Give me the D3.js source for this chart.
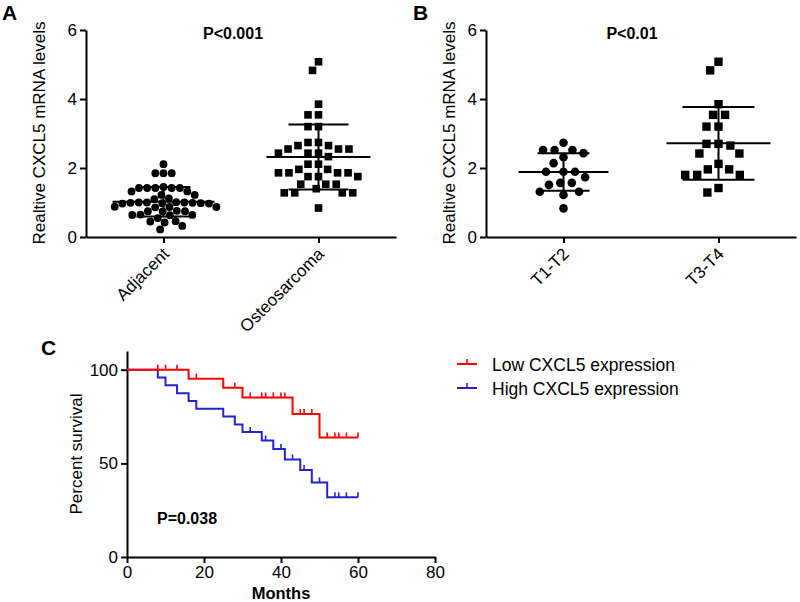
<!DOCTYPE html>
<html>
<head>
<meta charset="utf-8">
<script src="https://cdn.jsdelivr.net/npm/d3@7/dist/d3.min.js"></script>
<style>
  body { margin: 0; background: #fff; }
  text { font-family: "Liberation Sans", Arial, sans-serif; fill: #000; }
</style>
</head>
<body>
<svg id="fig" width="800" height="602"></svg>
<script>
// ---- data ----
const groupsA = ["Adjacent", "Osteosarcoma"];
const adjacent = [2.11, 1.85, 1.85, 1.85, 1.45, 1.42, 1.42, 1.42, 1.42, 1.42, 1.32, 1.32, 1.22, 1.22,
  1.12, 1.10, 1.01, 1.00, 1.00, 1.00, 0.99, 0.99, 0.98, 0.98, 0.97, 0.97, 0.88, 0.87, 0.87, 0.86,
  0.76, 0.75, 0.75, 0.74, 0.65, 0.64, 0.64, 0.63, 0.55, 0.46, 0.45, 0.42, 0.32, 0.22];
const osteosarcoma = [5.08, 4.83, 3.85, 3.54, 3.54, 3.20, 3.20, 2.74, 2.74, 2.65, 2.65, 2.55, 2.55, 2.55,
  2.43, 2.43, 2.43, 2.33, 2.11, 2.11, 1.96, 1.96, 1.86, 1.86, 1.86, 1.86, 1.75, 1.75, 1.75,
  1.53, 1.53, 1.53, 1.40, 1.28, 1.28, 1.28, 1.28, 0.84];

const groupsB = ["T1-T2", "T3-T4"];
const t1t2 = [2.73, 2.52, 2.52, 2.52, 2.43, 2.31, 2.14, 1.89, 1.89, 1.89, 1.73, 1.57, 1.57, 1.51,
  1.31, 1.31, 1.22, 0.83];
const t3t4 = [5.08, 4.83, 3.85, 3.54, 3.54, 3.20, 3.20, 2.70, 2.70, 2.65, 2.42, 2.42, 2.12, 1.96,
  1.96, 1.80, 1.80, 1.80, 1.42, 1.29];

const scatterTicks = [0, 2, 4, 6];

// Kaplan-Meier steps (months, percent survival)
const lowEventMonths = [16, 25, 30, 43, 50];
const lowSurvival = [95.2, 90.4, 85.2, 76.3, 63.8];
const lowCensorMonths = [8, 10, 13, 18, 28, 32, 35, 36, 38, 40, 41, 45, 46, 48, 52, 54, 55, 57, 60];
const highEventMonths = [8, 10, 13, 16, 18, 25, 28, 30, 35, 38, 41, 45, 48, 52];
const highSurvival = [95.8, 91.7, 87.5, 83.3, 79.2, 75.0, 70.8, 66.7, 62.2, 57.7, 52.1, 46.5, 39.8, 31.9];
const highCensorMonths = [32, 36, 40, 43, 46, 50, 54, 55, 57, 60];
const followUpEnd = 60;
const monthTicks = [0, 20, 40, 60, 80];
const survivalTicks = [0, 50, 100];

const svg = d3.select("#fig");

function styleAxis(g) {
  g.selectAll("path, line").attr("stroke", "#000").attr("stroke-width", 2);
  g.selectAll("text").style("font-size", "17px").attr("fill", "#000");
}

// simple swarm layout, like the prism dot plots
function swarm(values, y, gap) {
  const placed = [];
  values.map(v => ({ v: v, py: y(v) }))
    .sort((a, b) => a.py - b.py)
    .forEach(p => {
      const cands = [0];
      placed.forEach(q => {
        const dy = Math.abs(q.py - p.py);
        if (dy < gap) {
          const dx = Math.sqrt(gap * gap - dy * dy);
          cands.push(q.dx + dx, q.dx - dx);
        }
      });
      cands.sort((a, b) => Math.abs(a) - Math.abs(b) || a - b);
      p.dx = cands.find(c => placed.every(q => (q.dx - c) ** 2 + (q.py - p.py) ** 2 >= gap * gap - 0.01));
      placed.push(p);
    });
  return placed;
}

function scatterPanel(opt) {
  const g = svg.append("g");
  const x = d3.scalePoint().domain(opt.groups).range(opt.xRange).padding(0.5);
  const y = d3.scaleLinear().domain([0, 6]).range([237, 30]);

  g.append("g")
    .attr("transform", `translate(${opt.xRange[0]},0)`)
    .call(d3.axisLeft(y).tickValues(scatterTicks).tickFormat(d3.format("d"))
      .tickSize(6).tickSizeOuter(0).tickPadding(3))
    .call(styleAxis);

  const xa = g.append("g")
    .attr("transform", "translate(0,237)")
    .call(d3.axisBottom(x).tickSize(6).tickSizeOuter(0))
    .call(styleAxis);
  xa.selectAll("text")
    .attr("x", 0).attr("y", 0).attr("dy", 0)
    .attr("text-anchor", "end")
    .attr("transform", "translate(6,18) rotate(-45)");

  opt.series.forEach((vals, i) => {
    const cx = x(opt.groups[i]);
    const pts = swarm(vals, y, opt.gap[i]);
    if (i === 0) {
      g.selectAll(null).data(pts).enter().append("circle")
        .attr("cx", d => cx + d.dx).attr("cy", d => d.py)
        .attr("r", opt.r).attr("fill", "#000");
    } else {
      g.selectAll(null).data(pts).enter().append("rect")
        .attr("x", d => cx + d.dx - opt.sq / 2).attr("y", d => d.py - opt.sq / 2)
        .attr("width", opt.sq).attr("height", opt.sq).attr("fill", "#000");
    }
    // mean and SD bars
    const m = d3.mean(vals), sd = d3.deviation(vals);
    const w = opt.meanHalf[i], s = opt.sdHalf[i];
    const bars = g.append("g").attr("stroke", "#000").attr("stroke-width", 2);
    bars.append("line").attr("x1", cx - w).attr("x2", cx + w).attr("y1", y(m)).attr("y2", y(m));
    bars.append("line").attr("x1", cx - s).attr("x2", cx + s).attr("y1", y(m + sd)).attr("y2", y(m + sd));
    bars.append("line").attr("x1", cx - s).attr("x2", cx + s).attr("y1", y(m - sd)).attr("y2", y(m - sd));
    bars.append("line").attr("x1", cx).attr("x2", cx).attr("y1", y(m - sd)).attr("y2", y(m + sd));
  });

  g.append("text")
    .attr("transform", `translate(${opt.labelX},133) rotate(-90)`)
    .attr("text-anchor", "middle")
    .style("font-size", "17px")
    .text("Realtive CXCL5 mRNA levels");

  g.append("text")
    .attr("x", opt.pX).attr("y", 39)
    .attr("text-anchor", "middle")
    .style("font-size", "16px").style("font-weight", "bold")
    .text(opt.pText);

  g.append("text")
    .attr("x", opt.letterX).attr("y", 20)
    .style("font-size", "21px").style("font-weight", "bold")
    .text(opt.letter);
}

scatterPanel({
  groups: groupsA, series: [adjacent, osteosarcoma], xRange: [86, 396],
  gap: [8.2, 10.5], r: 3.9, sq: 7.6, meanHalf: [51, 52], sdHalf: [27, 30],
  labelX: 45, pX: 233, pText: "P<0.001", letter: "A", letterX: 2
});
scatterPanel({
  groups: groupsB, series: [t1t2, t3t4], xRange: [486, 796],
  gap: [11.5, 12], r: 4.3, sq: 8.4, meanHalf: [45, 52], sdHalf: [26, 36],
  labelX: 455, pX: 632, pText: "P<0.01", letter: "B", letterX: 413
});

// ---- panel C: survival ----
const xC = d3.scaleLinear().domain([0, 80]).range([127, 435]);
const yC = d3.scaleLinear().domain([0, 110]).range([557, 351]);
const gC = svg.append("g");

gC.append("g")
  .attr("transform", "translate(0,557)")
  .call(d3.axisBottom(xC).tickValues(monthTicks).tickSize(6).tickSizeOuter(0).tickPadding(3))
  .call(styleAxis);
gC.append("g")
  .attr("transform", "translate(127,0)")
  .call(d3.axisLeft(yC).tickValues(survivalTicks).tickSize(6).tickSizeOuter(0).tickPadding(3))
  .call(styleAxis);

function survAt(t, times, surv) {
  let s = 100;
  times.forEach((e, i) => { if (e <= t) s = surv[i]; });
  return s;
}

const step = d3.line().x(d => xC(d[0])).y(d => yC(d[1])).curve(d3.curveStepAfter);
const curves = [
  { times: highEventMonths, surv: highSurvival, cens: highCensorMonths, color: "#2424c8" },
  { times: lowEventMonths, surv: lowSurvival, cens: lowCensorMonths, color: "#ff0000" }
];
curves.forEach(c => {
  const pts = [[0, 100]].concat(c.times.map((t, i) => [t, c.surv[i]]));
  pts.push([followUpEnd, c.surv[c.surv.length - 1]]);
  gC.append("path").attr("d", step(pts))
    .attr("fill", "none").attr("stroke", c.color).attr("stroke-width", 2);
  gC.selectAll(null).data(c.cens).enter().append("line")
    .attr("x1", d => xC(d)).attr("x2", d => xC(d))
    .attr("y1", d => yC(survAt(d, c.times, c.surv)))
    .attr("y2", d => yC(survAt(d, c.times, c.surv)) - 5)
    .attr("stroke", c.color).attr("stroke-width", 1.6);
});

gC.append("text")
  .attr("transform", "translate(82,454) rotate(-90)")
  .attr("text-anchor", "middle").style("font-size", "17px")
  .text("Percent survival");
gC.append("text")
  .attr("x", 281).attr("y", 599)
  .attr("text-anchor", "middle").style("font-size", "16.5px").style("font-weight", "bold")
  .text("Months");
gC.append("text")
  .attr("x", 157).attr("y", 524)
  .style("font-size", "16px").style("font-weight", "bold")
  .text("P=0.038");
gC.append("text")
  .attr("x", 41).attr("y", 355)
  .style("font-size", "21px").style("font-weight", "bold")
  .text("C");

// legend
const legendItems = [
  { label: "Low CXCL5 expression", color: "#ff0000" },
  { label: "High CXCL5 expression", color: "#2424c8" }
];
const lg = svg.append("g");
legendItems.forEach((d, i) => {
  const yy = 364 + i * 24;
  lg.append("line").attr("x1", 457).attr("x2", 477).attr("y1", yy).attr("y2", yy)
    .attr("stroke", d.color).attr("stroke-width", 2);
  lg.append("line").attr("x1", 467).attr("x2", 467).attr("y1", yy).attr("y2", yy - 5)
    .attr("stroke", d.color).attr("stroke-width", 1.6);
  lg.append("text").attr("x", 492).attr("y", yy + 7)
    .style("font-size", "17.5px").text(d.label);
});
</script>
</body>
</html>
